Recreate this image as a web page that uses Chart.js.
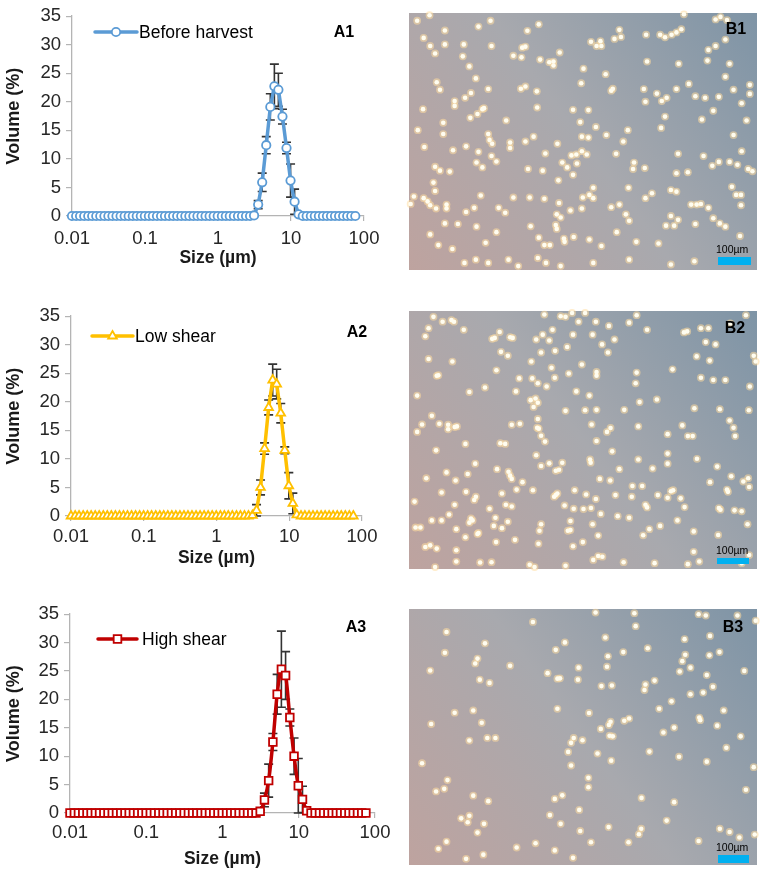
<!DOCTYPE html>
<html><head><meta charset="utf-8">
<script src="https://cdn.jsdelivr.net/npm/chart.js@4.4.0/dist/chart.umd.min.js"></script>
<style>
body{margin:0;background:#fff;width:765px;height:871px;position:relative;overflow:hidden;font-family:'Liberation Sans',Arial,sans-serif}
.c{position:absolute}
.c canvas{display:block}
.lbl{position:absolute;font-weight:bold;font-size:16px;color:#000;transform:translate(-50%,-50%);white-space:nowrap}
.sbt{position:absolute;font-size:10.5px;color:#000;transform:translateY(-50%);white-space:nowrap}
.sb{position:absolute;background:#00b0f0}
</style></head><body>
<div class="c" style="left:0;top:0"><canvas id="a1" width="390" height="280"></canvas></div>
<div class="c" style="left:0;top:300px"><canvas id="a2" width="390" height="280"></canvas></div>
<div class="c" style="left:0;top:598px"><canvas id="a3" width="395" height="273"></canvas></div>
<div class="c" style="left:405px;top:9px"><canvas id="b1" width="356" height="265"></canvas></div>
<div class="c" style="left:405px;top:307px"><canvas id="b2" width="356" height="266"></canvas></div>
<div class="c" style="left:405px;top:605px"><canvas id="b3" width="356" height="264"></canvas></div>
<div class="lbl" style="left:344px;top:32px">A1</div>
<div class="lbl" style="left:357px;top:332px">A2</div>
<div class="lbl" style="left:356px;top:627px">A3</div>
<div class="lbl" style="left:736px;top:29px">B1</div>
<div class="lbl" style="left:735px;top:328px">B2</div>
<div class="lbl" style="left:733px;top:627px">B3</div>
<div class="sbt" style="left:716px;top:249px">100µm</div>
<div class="sbt" style="left:716px;top:550px">100µm</div>
<div class="sbt" style="left:716px;top:847px">100µm</div>
<div class="sb" style="left:718px;top:257px;width:33px;height:8px"></div>
<div class="sb" style="left:717px;top:558px;width:32px;height:6px"></div>
<div class="sb" style="left:718px;top:855px;width:31px;height:8px"></div>
<script>
// ---------- DATA ----------
const SIZES = [0.0100,0.0114,0.0129,0.0147,0.0167,0.0189,0.0215,0.0244,0.0278,0.0315,0.0358,0.0407,0.0463,0.0526,0.0597,0.0679,0.0771,0.0876,0.0995,
 0.113,0.128,0.146,0.166,0.188,0.214,0.243,0.276,0.314,0.357,0.405,0.460,0.523,0.594,0.675,0.767,0.872,0.991,
 1.13,1.28,1.45,1.65,1.88,2.13,2.42,2.75,3.12,3.55,4.03,4.58,5.21,5.92,6.72,7.64,8.68,9.86,
 11.2,12.7,14.5,16.4,18.7,21.2,24.1,27.4,31.1,35.3,40.1,45.6,51.8,58.9,66.9,76.0,86.4];
const X_TICKS = [0.01,0.1,1,10,100];
const Y_TICKS_MAX = 35;

const BEFORE_HARVEST = [
 0,0,0,0,0,0,0,0,0,0,0,0,0,0,0,
 0,0,0,0,0,0,0,0,0,0,0,0,0,0,0,
 0,0,0,0,0,0,0,0,0,0,0,0,0,0,0,
 0.1,2.0,5.9,12.4,19.1,22.7,22.1,17.4,11.9,6.2,2.5,0.3,
 0,0,0,0,0,0,0,0,0,0,0,0,0,0];
const BEFORE_HARVEST_ERR = [
 0,0,0,0,0,0,0,0,0,0,0,0,0,0,0,
 0,0,0,0,0,0,0,0,0,0,0,0,0,0,0,
 0,0,0,0,0,0,0,0,0,0,0,0,0,0,0,
 0,0.7,1.6,1.5,2.3,3.9,2.9,1.3,1.0,2.9,2.2,0.2,
 0,0,0,0,0,0,0,0,0,0,0,0,0,0];
const LOW_SHEAR = [
 0,0,0,0,0,0,0,0,0,0,0,0,0,0,0,
 0,0,0,0,0,0,0,0,0,0,0,0,0,0,0,
 0,0,0,0,0,0,0,0,0,0,0,0,0,0,0,
 0.1,1.0,5.0,11.8,19.0,23.8,23.1,18.0,11.5,5.3,2.2,0.2,
 0,0,0,0,0,0,0,0,0,0,0,0,0,0];
const LOW_SHEAR_ERR = [
 0,0,0,0,0,0,0,0,0,0,0,0,0,0,0,
 0,0,0,0,0,0,0,0,0,0,0,0,0,0,0,
 0,0,0,0,0,0,0,0,0,0,0,0,0,0,0,
 0,1.0,1.3,1.0,1.3,2.8,2.6,1.7,0.6,2.3,1.8,0,
 0,0,0,0,0,0,0,0,0,0,0,0,0,0];
const HIGH_SHEAR = [
 0,0,0,0,0,0,0,0,0,0,0,0,0,0,0,
 0,0,0,0,0,0,0,0,0,0,0,0,0,0,0,
 0,0,0,0,0,0,0,0,0,0,0,0,0,0,0,
 0.3,2.3,5.7,12.5,20.9,25.3,24.2,16.8,10.0,4.8,2.4,0.4,
 0,0,0,0,0,0,0,0,0,0,0,0,0,0];
const HIGH_SHEAR_ERR = [
 0,0,0,0,0,0,0,0,0,0,0,0,0,0,0,
 0,0,0,0,0,0,0,0,0,0,0,0,0,0,0,
 0,0,0,0,0,0,0,0,0,0,0,0,0,0,0,
 0.2,1.2,2.9,1.5,3.5,6.7,4.2,1.5,3.2,4.8,2.3,0.3,
 0,0,0,0,0,0,0,0,0,0,0,0,0,0];

// micrograph cell positions (image pixel coordinates)
const B1_CELLS = [[40,52],[78,35],[125,82],[228,70],[265,52],[378,83],[413,63],[573,117],[590,130],[605,130],[602,115],[645,108],[660,80],[665,102],[742,95],[785,95],[800,103],[820,95],[835,88],[850,78],[858,32],[955,48],[970,40],[990,50],[985,110],
[60,105],[80,130],[95,153],[125,125],[183,125],[180,162],[200,193],[268,130],[335,160],[360,165],[362,135],[372,132],[417,172],[445,180],[458,178],[458,190],[477,150],[550,200],[618,217],[745,178],[842,185],[933,142],[955,130],[930,175],[998,185],
[100,242],[110,265],[187,290],[205,275],[220,230],[258,263],[358,262],[372,255],[407,270],[543,245],[635,268],[640,262],[735,263],[775,277],[790,300],[805,290],[835,263],[873,247],[893,285],[923,290],[965,287],[985,225],[1010,265],[1060,250],[1060,278],
[58,325],[155,300],[155,315],[203,352],[225,340],[240,325],[245,322],[313,360],[408,320],[518,327],[540,365],[565,328],[588,380],[686,390],[740,302],[800,348],[913,357],[948,330],[1035,307],[1050,360],[42,390],[120,402],[120,367],[788,383],
[62,442],[150,452],[190,440],[228,457],[258,402],[262,420],[270,432],[325,428],[325,445],[372,425],[397,410],[433,462],[470,432],[513,468],[528,465],[545,410],[565,413],[560,465],[545,455],[620,405],[650,463],[672,425],[705,490],[840,463],[918,470],[1010,405],[1035,455],
[95,503],[110,515],[140,518],[222,490],[240,505],[268,470],[283,487],[380,510],[425,515],[485,490],[500,505],[518,528],[530,493],[473,545],[580,568],[688,568],[702,510],[738,507],[760,585],[818,575],[835,580],[870,520],[835,523],[945,500],[965,488],[998,488],[1022,497],[1055,510],[1068,517],[90,552],[95,578],
[30,595],[20,618],[60,600],[72,610],[80,622],[98,632],[130,632],[130,620],[190,643],[215,630],[235,592],[290,630],[310,645],[335,598],[385,598],[430,602],[475,615],[468,650],[480,660],[510,638],[545,632],[548,598],[568,590],[580,600],[635,628],[660,620],[680,650],[690,670],[740,600],[818,655],[840,667],[880,620],[897,620],[910,618],[933,630],[948,662],[968,678],[1005,565],[1018,590],[1033,590],[1033,622],[125,678],[165,680],[222,688],
[80,712],[105,745],[148,757],[250,738],[283,705],[388,687],[413,722],[430,745],[447,745],[465,683],[468,695],[490,725],[492,735],[520,720],[568,728],[605,748],[652,705],[712,735],[780,740],[803,685],[828,685],[893,680],[985,688],[1030,717],[185,800],[220,790],[258,800],[320,790],[350,810],[410,785],[435,800],[480,810],[580,800],[690,790],[818,805],[890,795]];

const B2_CELLS = [[90,40],[118,55],[145,50],[153,55],[75,75],[65,100],[183,80],[270,108],[278,105],[293,87],[325,103],[333,105],[405,110],[425,95],[430,33],[455,80],[480,38],[495,40],[515,28],[535,55],[555,28],[518,95],[578,95],[588,55],[628,68],[645,110],[690,58],[713,35],[745,80],[858,88],[868,85],[910,75],[933,75],[1000,60],[1048,35],
[75,170],[148,178],[297,148],[318,160],[390,178],[420,150],[445,113],[463,145],[500,133],[545,187],[607,125],[625,150],[897,162],[937,175],[955,125],[925,118],[1072,160],[1078,178],
[100,222],[105,220],[40,283],[200,272],[248,258],[283,205],[353,230],[343,270],[393,230],[410,245],[437,255],[452,197],[462,228],[505,215],[528,270],[568,283],[590,222],[590,210],[713,212],[710,245],[823,202],[910,228],[948,235],[985,235],[1060,255],[388,297],[403,292],[410,305],[397,318],
[722,303],[775,295],[495,330],[555,328],[590,327],[675,327],[890,322],[968,325],[1057,328],[85,345],[55,372],[40,395],[108,370],[135,373],[135,387],[155,380],[162,378],[330,373],[355,370],[410,355],[408,382],[413,385],[575,372],[622,395],[633,383],[718,378],[853,375],[998,360],[1010,382],
[188,432],[295,430],[310,432],[420,407],[432,425],[590,423],[808,402],[870,408],[885,408],[1015,408],[98,452],[405,467],[570,480],[572,490],[638,455],[718,480],[808,462],[808,493],[898,478],[420,500],[445,492],[485,490],[465,515],[475,512],
[218,493],[130,520],[195,525],[285,510],[320,518],[325,530],[330,540],[363,550],[68,538],[158,545],[600,540],[632,545],[660,510],[700,562],[730,562],[762,508],[818,578],[825,575],[938,550],[960,502],[1003,532],[1040,548],[1055,538],[1058,565],[523,575],[395,575],[345,573],[300,585],[190,580],[115,582],[220,595],[215,605],[465,590],[470,585],[460,595],[558,588],[588,602],[648,590],[698,595],[778,590],[808,598],[848,600],[990,573],[993,580],
[32,610],[155,620],[262,632],[312,620],[330,625],[492,622],[520,632],[550,633],[573,630],[740,620],[745,628],[860,627],[965,630],[970,635],[1013,637],[1035,640],[85,668],[115,668],[138,650],[205,662],[210,668],[200,675],[280,660],[318,672],[603,648],[420,680],[510,670],[578,680],[655,655],[690,660],[838,668],[35,690],[50,690],[160,695],[225,710],[275,685],[300,692],[415,700],[502,700],[510,698],[595,715],[733,714],[752,695],[785,685],[888,702],[963,713],[1053,680],
[188,720],[228,707],[282,735],[340,728],[412,740],[65,750],[80,745],[100,755],[160,760],[518,748],[548,735],[608,780],[888,765],[580,790],[595,778],[233,798],[268,797],[95,812],[160,795],[385,805],[400,812],[495,808],[673,797],[768,800],[870,803],[905,795],[1035,800],[1058,775]];

const B3_CELLS = [[130,93],[125,157],[80,212],[248,128],[225,175],[218,190],[232,240],[262,250],[325,197],[395,62],[440,220],[465,148],[493,125],[470,237],[478,236],[533,240],[535,203],[587,33],[617,110],[625,168],[622,200],[605,260],[637,258],[672,155],[706,35],[710,75],[747,143],[740,255],[737,272],[768,243],[860,115],[862,163],[853,183],[845,215],[878,203],[903,38],[925,42],[938,105],[936,165],[967,155],[928,226],[947,262],[878,285],[917,280],[1022,42],[1043,213],[1078,58],
[782,330],[820,307],[905,357],[908,365],[980,335],[960,382],[1032,415],[988,450],[1072,510],[928,493],[843,478],[828,388],[795,403],[752,462],[690,360],[675,367],[633,370],[628,380],[603,392],[630,413],[640,415],[567,343],[470,330],[520,420],[512,435],[547,427],[503,463],[593,468],[635,490],[512,505],[565,543],[565,572],
[155,342],[212,335],[83,377],[238,373],[200,428],[255,420],[280,420],[55,498],[133,550],[98,585],[123,577],[212,598],[258,615],[175,668],[200,660],[195,680],[245,685],[225,712],[130,740],[105,762],[190,793],[243,780],[345,758],[403,745],[447,658],[480,685],[462,608],[485,597],[540,707],[537,642],[462,767],[518,790],[573,742],[627,695],[688,742],[720,717],[727,700],[728,605],[828,618],[805,675],[903,738],[968,700],[998,710],[1028,727],[1075,718],[1048,580]];

// ---------- RENDERING ----------
const FONT = "'Liberation Sans', Arial, sans-serif";
Chart.defaults.font.family = FONT;
Chart.defaults.color = '#262626';

const errLegendPlugin = {
  id: 'errLegend',
  beforeDatasetsDraw(chart) {
    const o = chart.options.plugins.errLegend; if (!o) return;
    const ctx = chart.ctx, xs = chart.scales.x, ys = chart.scales.y;
    ctx.save();
    ctx.strokeStyle = '#333333'; ctx.lineWidth = 1.6;
    o.errors.forEach((e, i) => {
      if (!e) return;
      const v = o.values[i];
      const x = xs.getPixelForValue(SIZES[i]);
      const yt = ys.getPixelForValue(v + e), yb = ys.getPixelForValue(Math.max(0, v - e));
      ctx.beginPath();
      ctx.moveTo(x, yt); ctx.lineTo(x, yb);
      ctx.moveTo(x - 4.5, yt); ctx.lineTo(x + 4.5, yt);
      ctx.moveTo(x - 4.5, yb); ctx.lineTo(x + 4.5, yb);
      ctx.stroke();
    });
    ctx.restore();
  },
  afterDraw(chart) {
    const o = chart.options.plugins.errLegend; if (!o) return;
    const ctx = chart.ctx, L = o.legend;
    ctx.save();
    ctx.strokeStyle = o.color; ctx.lineWidth = 3.5; ctx.lineCap = 'round';
    ctx.beginPath(); ctx.moveTo(L.x1, L.y); ctx.lineTo(L.x2, L.y); ctx.stroke();
    ctx.fillStyle = '#fff'; ctx.strokeStyle = o.color; ctx.lineWidth = 1.8;
    Chart.helpers.drawPoint(ctx, {pointStyle: o.pointStyle, radius: o.radius, rotation: 0, borderWidth: 1.8}, (L.x1 + L.x2) / 2, L.y);
    ctx.fillStyle = '#000'; ctx.font = '17.5px ' + FONT; ctx.textBaseline = 'middle'; ctx.textAlign = 'left';
    ctx.fillText(L.text, L.tx, L.y + 1);
    ctx.restore();
  }
};

function makeLine(id, values, errors, color, pointStyle, radius, tension, cfg) {
  new Chart(document.getElementById(id), {
    type: 'line',
    data: { datasets: [{
      data: SIZES.map((s, i) => ({x: s, y: values[i]})),
      borderColor: color, borderWidth: 3.5, backgroundColor: '#fff',
      pointStyle: pointStyle, pointRadius: radius, pointBorderWidth: 1.8,
      pointBackgroundColor: '#fff', pointBorderColor: color,
      tension: tension, cubicInterpolationMode: tension ? 'monotone' : 'default', clip: false
    }]},
    options: {
      responsive: false, animation: false, events: [],
      layout: { padding: { top: cfg.padTop, right: cfg.padRight, left: 0, bottom: 0 } },
      plugins: { legend: { display: false }, tooltip: { enabled: false },
        errLegend: { values, errors, color, pointStyle, radius, legend: cfg.legend } },
      scales: {
        x: { type: 'logarithmic', min: 0.01, max: 100,
          afterBuildTicks: s => { s.ticks = X_TICKS.map(v => ({value: v})); },
          afterFit: s => { s.height = cfg.xHeight; },
          ticks: { callback: v => String(v), font: { size: 18.5 }, color: '#262626', padding: cfg.xTickPad, maxRotation: 0, autoSkip: false },
          grid: { display: true, drawOnChartArea: false, drawTicks: true, tickLength: 5, color: '#b4b4b4', lineWidth: 1.2 },
          border: { display: true, color: '#b4b4b4', width: 1.3 },
          title: { display: true, text: 'Size (µm)', font: { size: 17.5, weight: 'bold' }, color: '#1a1a1a', padding: { top: 0, bottom: cfg.titlePad } } },
        y: { min: 0, max: Y_TICKS_MAX,
          afterFit: s => { s.width = cfg.yWidth; },
          ticks: { stepSize: 5, font: { size: 18.5 }, color: '#262626', padding: 5 },
          grid: { display: true, drawOnChartArea: false, drawTicks: true, tickLength: 6, color: '#b4b4b4', lineWidth: 1.2 },
          border: { display: true, color: '#b4b4b4', width: 1.3 },
          title: { display: true, text: 'Volume (%)', font: { size: 18, weight: 'bold' }, color: '#1a1a1a', padding: { top: 3, bottom: 0 } } }
      }
    },
    plugins: [errLegendPlugin]
  });
}

makeLine('a1', BEFORE_HARVEST, BEFORE_HARVEST_ERR, '#5b9bd5', 'circle', 4.2, 0,
  { padTop: 10, padRight: 26, xHeight: 64, yWidth: 72, xTickPad: 7, titlePad: 11,
    legend: { x1: 95, x2: 137, y: 32, tx: 139, text: 'Before harvest' } });
makeLine('a2', LOW_SHEAR, LOW_SHEAR_ERR, '#ffc000', 'triangle', 5, 0,
  { padTop: 10, padRight: 28, xHeight: 64, yWidth: 71, xTickPad: 5, titlePad: 11,
    legend: { x1: 92, x2: 133, y: 36, tx: 135, text: 'Low shear' } });
makeLine('a3', HIGH_SHEAR, HIGH_SHEAR_ERR, '#c00000', 'rect', 5.4, 0.4,
  { padTop: 10, padRight: 20, xHeight: 58, yWidth: 70, xTickPad: 4, titlePad: 1,
    legend: { x1: 98, x2: 137, y: 41, tx: 142, text: 'High shear' } });

const bgPlugin = {
  id: 'micBg',
  beforeDraw(chart) {
    const ctx = chart.ctx, a = chart.chartArea;
    ctx.save();
    const g = ctx.createLinearGradient(a.left, a.bottom, a.right, a.top);
    g.addColorStop(0, '#bea39f');
    g.addColorStop(0.5, '#a8a9ae');
    g.addColorStop(1, '#7e94a6');
    ctx.fillStyle = g; ctx.fillRect(a.left, a.top, a.right - a.left, a.bottom - a.top);
    ctx.restore();
  }
};

function makeMicro(id, cells, ext) {
  const pts = cells.map(c => ({x: c[0], y: c[1]}));
  new Chart(document.getElementById(id), {
    type: 'scatter',
    data: { datasets: [
      { data: pts, pointRadius: 2.3, pointBackgroundColor: '#fffdf0', pointBorderWidth: 0, clip: false },
      { data: pts, pointRadius: 3.9, pointBackgroundColor: 'rgba(255,220,160,0.55)', pointBorderWidth: 0, clip: false }
    ]},
    options: {
      responsive: false, animation: false, events: [],
      layout: { padding: 0 },
      plugins: { legend: { display: false }, tooltip: { enabled: false } },
      scales: {
        x: { type: 'linear', display: false, min: ext[0], max: ext[1] },
        y: { type: 'linear', display: false, min: ext[2], max: ext[3], reverse: true }
      }
    },
    plugins: [bgPlugin]
  });
}
makeMicro('b1', B1_CELLS, [15, 1082, 28, 822]);
makeMicro('b2', B2_CELLS, [15, 1082, 22, 818]);
makeMicro('b3', B3_CELLS, [15, 1082, 22, 812]);
</script>
</body></html>
